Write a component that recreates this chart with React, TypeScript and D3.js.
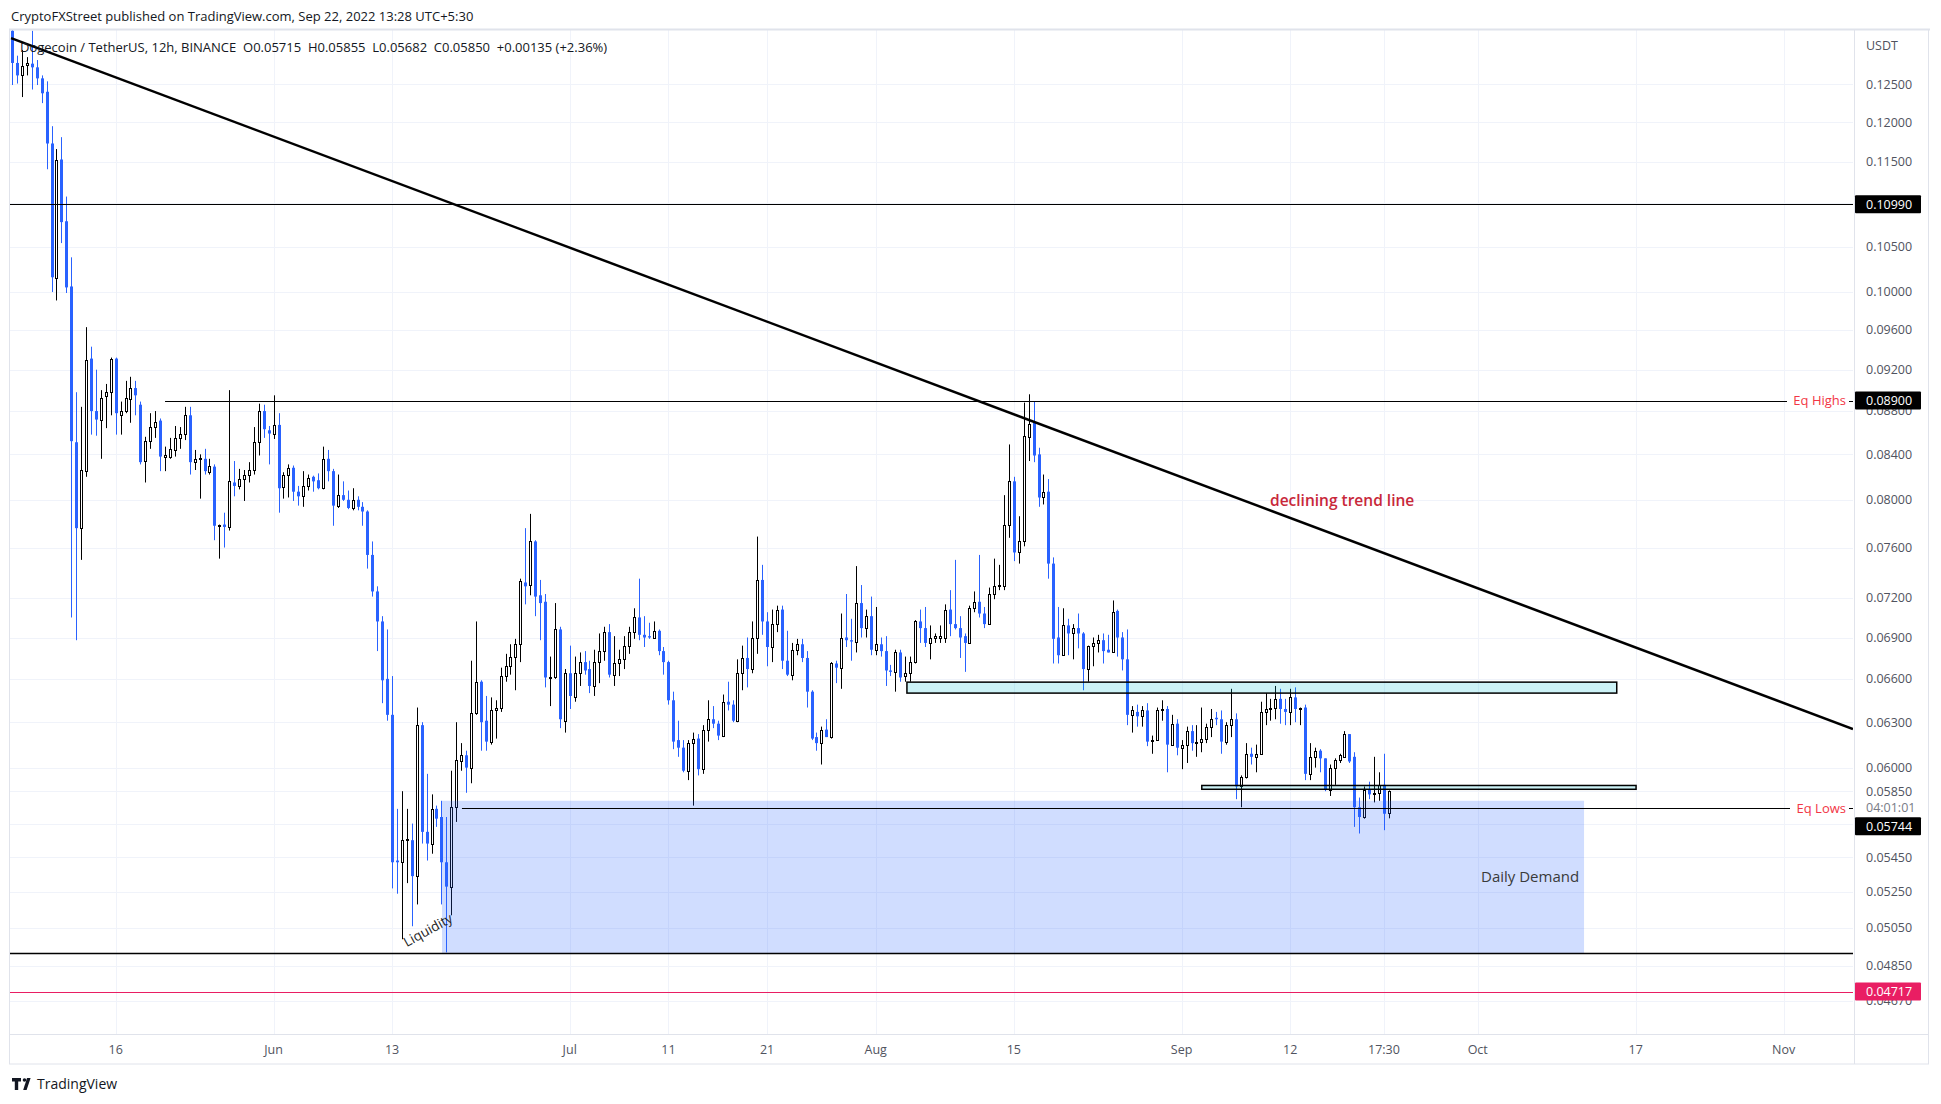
import React from "react";
import * as d3 from "d3";

// 12h candles, [open, high, low, close]
const mayStart = Date.UTC(2022, 4, 5, 12);
const mayCandles = [
  [0.1324, 0.133, 0.1249, 0.1279], [0.1279, 0.1289, 0.1251, 0.1262], [0.1262, 0.1297, 0.1233, 0.1275],
  [0.1276, 0.1287, 0.1262, 0.1279], [0.1278, 0.1324, 0.1243, 0.1273], [0.1273, 0.1283, 0.1249, 0.1258],
  [0.1258, 0.1262, 0.1225, 0.1238], [0.124, 0.1254, 0.1141, 0.1173], [0.1173, 0.1195, 0.1, 0.1016],
  [0.1015, 0.1166, 0.0991, 0.1153], [0.1153, 0.1181, 0.1054, 0.1078], [0.1079, 0.1108, 0.0999, 0.1005],
  [0.1006, 0.1038, 0.0705, 0.0852], [0.0851, 0.0898, 0.0688, 0.0776], [0.0776, 0.0884, 0.075, 0.0826],
  [0.0825, 0.0963, 0.082, 0.093], [0.0931, 0.0943, 0.0858, 0.088], [0.088, 0.092, 0.0857, 0.0872],
  [0.0872, 0.09, 0.0836, 0.0892], [0.0894, 0.0906, 0.0864, 0.0898], [0.0898, 0.0932, 0.0876, 0.0931],
  [0.0931, 0.0932, 0.0858, 0.0878], [0.0876, 0.0889, 0.0858, 0.088], [0.088, 0.0909, 0.0878, 0.0892],
  [0.0891, 0.0913, 0.0869, 0.0902], [0.0902, 0.0909, 0.0876, 0.0895], [0.0886, 0.0889, 0.0831, 0.0833],
  [0.0834, 0.0856, 0.0815, 0.0852], [0.0852, 0.0878, 0.0845, 0.0865], [0.0865, 0.088, 0.0855, 0.087],
  [0.0871, 0.0873, 0.0825, 0.0838], [0.0838, 0.0847, 0.0825, 0.0839], [0.0838, 0.0855, 0.0836, 0.0845],
  [0.0844, 0.0866, 0.0838, 0.0855], [0.0855, 0.0865, 0.0845, 0.0859], [0.0859, 0.0884, 0.0853, 0.0876],
  [0.0876, 0.0884, 0.0822, 0.0833], [0.0833, 0.0844, 0.0826, 0.0836], [0.0837, 0.084, 0.0801, 0.0837],
  [0.0836, 0.0845, 0.0822, 0.0825], [0.0824, 0.0836, 0.0822, 0.083], [0.0829, 0.0831, 0.0766, 0.0778],
  [0.0778, 0.0779, 0.0751, 0.0779], [0.0779, 0.0789, 0.076, 0.0777], [0.0777, 0.09, 0.0774, 0.0816],
  [0.0815, 0.0834, 0.0803, 0.0812], [0.0812, 0.0827, 0.0809, 0.0818], [0.0818, 0.0826, 0.0799, 0.0822],
  [0.0822, 0.0833, 0.0815, 0.0826], [0.0826, 0.0865, 0.0822, 0.0851], [0.0851, 0.0887, 0.0839, 0.088],
  [0.088, 0.0886, 0.0855, 0.0863], [0.0862, 0.0866, 0.0831, 0.0859],
];

const junStart = Date.UTC(2022, 5, 1, 0);
const junCandles = [
  [0.0859, 0.0895, 0.0854, 0.0867], [0.0867, 0.0878, 0.0789, 0.081], [0.0811, 0.0824, 0.0801, 0.0822],
  [0.0822, 0.0831, 0.0802, 0.0828], [0.0828, 0.083, 0.0799, 0.0807], [0.0807, 0.0812, 0.0795, 0.0803],
  [0.0803, 0.0825, 0.0794, 0.0812], [0.0812, 0.0822, 0.0808, 0.0819], [0.082, 0.0821, 0.0807, 0.0816],
  [0.0817, 0.0823, 0.0809, 0.081], [0.081, 0.0847, 0.0809, 0.0836], [0.0836, 0.0844, 0.0816, 0.0825],
  [0.0825, 0.0827, 0.0778, 0.0795], [0.0795, 0.0822, 0.0793, 0.0804], [0.0804, 0.0816, 0.0799, 0.08],
  [0.08, 0.0808, 0.0792, 0.0793], [0.0793, 0.081, 0.0791, 0.08], [0.08, 0.0803, 0.0791, 0.0794],
  [0.0794, 0.0798, 0.0778, 0.079], [0.079, 0.0791, 0.0743, 0.0754], [0.0754, 0.0765, 0.0721, 0.0725],
  [0.0725, 0.0729, 0.068, 0.0702], [0.0702, 0.0706, 0.0643, 0.0659], [0.066, 0.0696, 0.0631, 0.0635],
  [0.0635, 0.0662, 0.0527, 0.0542], [0.0543, 0.0574, 0.0524, 0.0542], [0.0542, 0.0585, 0.0499, 0.0555],
  [0.0555, 0.0574, 0.053, 0.0556], [0.0555, 0.0565, 0.0506, 0.0534], [0.0534, 0.064, 0.0518, 0.0628],
  [0.0628, 0.063, 0.0553, 0.056], [0.056, 0.0596, 0.0543, 0.0553], [0.0553, 0.0583, 0.0547, 0.0574],
  [0.0574, 0.0576, 0.0563, 0.0568], [0.0569, 0.0579, 0.0518, 0.0542], [0.0542, 0.0569, 0.0492, 0.0528],
  [0.0528, 0.0598, 0.0512, 0.0575], [0.0575, 0.063, 0.0566, 0.0605], [0.0604, 0.0616, 0.0598, 0.0608],
  [0.0608, 0.0611, 0.0584, 0.06], [0.06, 0.0673, 0.059, 0.0636], [0.0636, 0.0702, 0.0635, 0.0658],
  [0.0658, 0.0659, 0.0611, 0.063], [0.0631, 0.0648, 0.0611, 0.0617], [0.0617, 0.0647, 0.0615, 0.0638],
  [0.0638, 0.0645, 0.0619, 0.064], [0.064, 0.0668, 0.0637, 0.0662], [0.0662, 0.0678, 0.0658, 0.0669],
  [0.0669, 0.0685, 0.0663, 0.0676], [0.0676, 0.0689, 0.0652, 0.0685], [0.0685, 0.0735, 0.0672, 0.0733],
  [0.0732, 0.0776, 0.0715, 0.0729], [0.073, 0.0788, 0.0722, 0.0765], [0.0765, 0.0766, 0.0706, 0.0721],
  [0.0722, 0.0734, 0.0688, 0.0716], [0.0717, 0.0723, 0.0654, 0.0661], [0.0661, 0.0676, 0.0641, 0.0661],
  [0.0661, 0.0716, 0.066, 0.0696], [0.0696, 0.0698, 0.0626, 0.0632], [0.0631, 0.0667, 0.0623, 0.0664],
];

const julStart = Date.UTC(2022, 6, 1, 0);
const julCandles = [
  [0.0664, 0.0684, 0.0639, 0.0648], [0.0647, 0.0676, 0.0644, 0.0664], [0.0664, 0.0679, 0.0655, 0.0672],
  [0.0672, 0.068, 0.0663, 0.0666], [0.0667, 0.0673, 0.065, 0.0655], [0.0655, 0.0681, 0.0648, 0.0672],
  [0.0672, 0.0693, 0.0657, 0.068], [0.068, 0.0698, 0.0673, 0.0694], [0.0694, 0.07, 0.0661, 0.0663],
  [0.0663, 0.0691, 0.0655, 0.0671], [0.0671, 0.0681, 0.0662, 0.0674], [0.0674, 0.0691, 0.0667, 0.0684],
  [0.0684, 0.0698, 0.0678, 0.0694], [0.0694, 0.0712, 0.0689, 0.0705], [0.0705, 0.0735, 0.0688, 0.0692],
  [0.0692, 0.0706, 0.0683, 0.069], [0.0691, 0.0701, 0.0689, 0.069], [0.069, 0.0702, 0.0689, 0.0695],
  [0.0695, 0.0696, 0.0677, 0.068], [0.068, 0.0683, 0.0663, 0.0672], [0.0672, 0.0673, 0.0642, 0.0645],
  [0.0645, 0.0651, 0.0612, 0.0617], [0.0618, 0.0631, 0.0607, 0.0613], [0.0613, 0.0618, 0.0597, 0.0598],
  [0.0598, 0.0618, 0.0592, 0.0616], [0.0616, 0.0623, 0.0576, 0.0619], [0.0619, 0.0622, 0.0595, 0.0599],
  [0.0599, 0.0628, 0.0596, 0.0625], [0.0625, 0.0645, 0.0617, 0.0632], [0.0632, 0.0641, 0.0626, 0.0629],
  [0.0629, 0.0631, 0.0618, 0.0621], [0.0621, 0.0649, 0.062, 0.0644], [0.0644, 0.0658, 0.0638, 0.0642],
  [0.0642, 0.0645, 0.063, 0.0631], [0.0631, 0.0674, 0.063, 0.0664], [0.0664, 0.0684, 0.0652, 0.0675],
  [0.0675, 0.069, 0.0654, 0.0667], [0.0667, 0.0702, 0.0664, 0.069], [0.069, 0.0769, 0.0678, 0.0734],
  [0.0734, 0.0746, 0.0692, 0.0702], [0.0702, 0.0709, 0.0669, 0.0683], [0.0683, 0.0711, 0.0672, 0.07],
  [0.07, 0.0714, 0.0694, 0.0711], [0.0711, 0.0714, 0.0667, 0.0673], [0.0673, 0.0695, 0.0662, 0.0663],
  [0.0663, 0.0686, 0.0659, 0.0681], [0.0681, 0.0689, 0.0677, 0.0685], [0.0685, 0.0689, 0.0672, 0.0675],
  [0.0675, 0.068, 0.064, 0.0651], [0.0651, 0.0652, 0.0618, 0.0619], [0.062, 0.0623, 0.0611, 0.0616],
  [0.0616, 0.0627, 0.0602, 0.0625], [0.0625, 0.0632, 0.062, 0.062], [0.062, 0.0672, 0.0619, 0.0671],
  [0.0671, 0.0673, 0.0657, 0.0668], [0.0668, 0.0708, 0.0653, 0.069], [0.069, 0.0723, 0.0683, 0.0688],
  [0.0688, 0.0704, 0.0673, 0.0687], [0.0687, 0.0745, 0.0679, 0.0716], [0.0716, 0.073, 0.069, 0.0697],
  [0.0697, 0.0711, 0.069, 0.0706], [0.0706, 0.0721, 0.0677, 0.0681],
];

const augStart = Date.UTC(2022, 7, 1, 0);
const augCandles = [
  [0.0681, 0.0713, 0.0677, 0.0685], [0.0685, 0.069, 0.0676, 0.068], [0.068, 0.0691, 0.0655, 0.0666],
  [0.0666, 0.067, 0.0662, 0.0665], [0.0665, 0.0681, 0.0651, 0.0679], [0.0679, 0.0681, 0.0658, 0.0661],
  [0.0662, 0.0676, 0.0658, 0.0664], [0.0664, 0.0676, 0.0658, 0.0672], [0.0672, 0.0703, 0.0671, 0.0702],
  [0.0702, 0.0711, 0.0686, 0.0697], [0.0697, 0.0713, 0.0683, 0.0686], [0.0686, 0.0699, 0.0674, 0.069],
  [0.069, 0.0693, 0.0686, 0.0691], [0.069, 0.0699, 0.0686, 0.0691], [0.069, 0.0715, 0.0686, 0.0711],
  [0.0711, 0.0726, 0.0691, 0.07], [0.07, 0.075, 0.0696, 0.0697], [0.0697, 0.0706, 0.0675, 0.069],
  [0.0691, 0.0693, 0.0665, 0.0686], [0.0686, 0.0714, 0.0686, 0.0712], [0.0712, 0.0725, 0.0709, 0.0717],
  [0.0717, 0.0754, 0.0705, 0.0708], [0.0708, 0.0713, 0.0697, 0.07], [0.07, 0.0728, 0.07, 0.0723],
  [0.0723, 0.0751, 0.0719, 0.0729], [0.0729, 0.0746, 0.0726, 0.073], [0.0729, 0.0804, 0.0726, 0.0779],
  [0.0779, 0.0849, 0.0768, 0.0816], [0.0816, 0.082, 0.0749, 0.0756], [0.0756, 0.0786, 0.0747, 0.0765],
  [0.0765, 0.0888, 0.0761, 0.0857], [0.0856, 0.0896, 0.0834, 0.0868], [0.0869, 0.0889, 0.0833, 0.0839],
  [0.084, 0.0846, 0.0794, 0.0802], [0.0802, 0.0822, 0.0796, 0.0807], [0.0807, 0.0818, 0.0735, 0.0747],
  [0.0747, 0.0752, 0.0671, 0.0689], [0.069, 0.0713, 0.0671, 0.0677], [0.0677, 0.0712, 0.0677, 0.0699],
  [0.0699, 0.0704, 0.0677, 0.0693], [0.0693, 0.07, 0.0674, 0.0697], [0.0697, 0.0708, 0.0682, 0.0693],
  [0.0693, 0.0694, 0.0652, 0.0667], [0.0667, 0.0684, 0.0658, 0.0684], [0.0684, 0.069, 0.0669, 0.0686],
  [0.0686, 0.0692, 0.0679, 0.0688], [0.0688, 0.0693, 0.0671, 0.068], [0.0681, 0.0692, 0.0679, 0.0679],
  [0.0679, 0.0718, 0.0679, 0.0709], [0.071, 0.0711, 0.0676, 0.069], [0.069, 0.0694, 0.0666, 0.0674],
  [0.0674, 0.0696, 0.0628, 0.0635], [0.0635, 0.0641, 0.0623, 0.0638], [0.0637, 0.0642, 0.0627, 0.0634],
  [0.0634, 0.0641, 0.0627, 0.0638], [0.0638, 0.0643, 0.0614, 0.0617], [0.0618, 0.0621, 0.0609, 0.0618],
  [0.0618, 0.064, 0.0618, 0.0638], [0.0638, 0.0645, 0.0631, 0.0639], [0.0639, 0.0641, 0.0597, 0.0615],
  [0.0615, 0.0635, 0.0615, 0.0629], [0.0629, 0.0632, 0.0608, 0.0613],
];

const sepStart = Date.UTC(2022, 8, 1, 0);
const sepCandles = [
  [0.0613, 0.0618, 0.0599, 0.0615], [0.0615, 0.0627, 0.0603, 0.0624], [0.0624, 0.0628, 0.0611, 0.0616],
  [0.0616, 0.0628, 0.0607, 0.0617], [0.0617, 0.064, 0.061, 0.0619], [0.0619, 0.0629, 0.0616, 0.0627],
  [0.0627, 0.0639, 0.062, 0.0632], [0.0633, 0.0637, 0.0628, 0.0632], [0.0632, 0.0638, 0.0609, 0.0617],
  [0.0617, 0.063, 0.0615, 0.0628], [0.0628, 0.0653, 0.062, 0.0632], [0.0632, 0.0636, 0.058, 0.0588],
  [0.0588, 0.0595, 0.0575, 0.0594], [0.0594, 0.0616, 0.0593, 0.0609], [0.0609, 0.0613, 0.0602, 0.0607],
  [0.0607, 0.0615, 0.0597, 0.0609], [0.0609, 0.0644, 0.0609, 0.0637], [0.0637, 0.065, 0.0628, 0.0639],
  [0.0639, 0.0646, 0.0631, 0.064], [0.064, 0.0655, 0.0632, 0.0646], [0.0646, 0.0653, 0.0629, 0.0639],
  [0.0639, 0.0646, 0.0628, 0.0637], [0.0637, 0.0653, 0.0628, 0.0647], [0.0647, 0.0654, 0.063, 0.0639],
  [0.0639, 0.064, 0.0628, 0.064], [0.064, 0.0642, 0.0592, 0.0596], [0.0596, 0.0616, 0.0592, 0.0607],
  [0.0607, 0.0613, 0.06, 0.0611], [0.0611, 0.0612, 0.0597, 0.0606], [0.0606, 0.0606, 0.0585, 0.0586],
  [0.0586, 0.0602, 0.0582, 0.06], [0.06, 0.0606, 0.0589, 0.0605], [0.0605, 0.0609, 0.0603, 0.0608],
  [0.0607, 0.0624, 0.0607, 0.0622], [0.0622, 0.0622, 0.0603, 0.0604], [0.0607, 0.061, 0.0563, 0.0575],
  [0.0575, 0.0581, 0.0559, 0.0569], [0.0569, 0.0588, 0.0568, 0.0586], [0.0586, 0.0591, 0.058, 0.0583],
  [0.0583, 0.0607, 0.0578, 0.0584], [0.0584, 0.0597, 0.0579, 0.0589], [0.0589, 0.0609, 0.0561, 0.0571],
  [0.05715, 0.05855, 0.05682, 0.0585],
];

const priceTicks = [0.125, 0.12, 0.115, 0.11, 0.105, 0.1, 0.096, 0.092, 0.088, 0.084, 0.08, 0.076, 0.072,
  0.069, 0.066, 0.063, 0.06, 0.0585, 0.0565, 0.0545, 0.0525, 0.0505, 0.0485, 0.0467];

const dateTickTimes = [
  Date.UTC(2022, 4, 16), Date.UTC(2022, 5, 1), Date.UTC(2022, 5, 13), Date.UTC(2022, 6, 1),
  Date.UTC(2022, 6, 11), Date.UTC(2022, 6, 21), Date.UTC(2022, 7, 1), Date.UTC(2022, 7, 15),
  Date.UTC(2022, 8, 1), Date.UTC(2022, 8, 12), Date.UTC(2022, 8, 21, 12), Date.UTC(2022, 9, 1),
  Date.UTC(2022, 9, 17), Date.UTC(2022, 10, 1),
];
const dateTickLabels = ["16", "Jun", "13", "Jul", "11", "21", "Aug", "15", "Sep", "12", "17:30", "Oct", "17", "Nov"];

// drawings
const levelLines = [0.1099, 0.04916];
const pinkLevel = 0.04717;
const eqHigh = { t: Date.UTC(2022, 4, 21), price: 0.089 };
const eqLow = { t: Date.UTC(2022, 5, 20, 2), price: 0.05744 };
const trendStart = { t: Date.UTC(2022, 4, 5, 9, 36), price: 0.13136 };
const trendEnd = { t: Date.UTC(2022, 10, 8, 0, 30), price: 0.06254 };
const demandZone = { t0: Date.UTC(2022, 5, 18, 1, 30), t1: Date.UTC(2022, 9, 11, 18, 30), top: 0.0579, bottom: 0.04916 };
const cyanZones = [
  { t0: Date.UTC(2022, 7, 4, 4), t1: Date.UTC(2022, 9, 15, 2), top: 0.06577, bottom: 0.065 },
  { t0: Date.UTC(2022, 8, 3, 1), t1: Date.UTC(2022, 9, 17, 1), top: 0.05886, bottom: 0.05862 },
];

const HALF_DAY = 12 * 3600 * 1000;
const BLUE = "#2962ff";
const FONT = "'Open Sans', 'Liberation Sans', sans-serif";

const PL = 10, PR = 1853, PT = 29, PB = 1034;

export default function App() {
  const x = d3.scaleUtc().domain([Date.UTC(2022, 4, 5, 7), Date.UTC(2022, 10, 8, 0, 30)]).range([PL, PR]);
  const y = d3.scaleLog().domain([0.04507, 0.13265]).range([PB, PT]);

  const blocks = [
    { start: mayStart, rows: mayCandles },
    { start: junStart, rows: junCandles },
    { start: julStart, rows: julCandles },
    { start: augStart, rows: augCandles },
    { start: sepStart, rows: sepCandles },
  ];
  const candles = blocks.flatMap((b) =>
    b.rows.map((r, i) => ({ t: b.start + i * HALF_DAY, o: r[0], h: r[1], l: r[2], c: r[3] }))
  );

  const crisp = (v: number) => Math.round(v) + 0.5;
  const fmt = (v: number) => v.toFixed(5);

  const trendPath = d3.line<{ t: number; price: number }>()
    .x((d) => x(d.t))
    .y((d) => y(d.price))([trendStart, trendEnd]);

  const labelBox = (v: number, yy: number, fill: string) => (
    <g>
      <rect x={1855} y={yy - 9} width={66} height={18} fill={fill} rx={1} />
      <text x={1866} y={yy} dy="0.35em" fill="#fff" fontSize={12.5} fontFamily={FONT}>{fmt(v)}</text>
    </g>
  );

  return (
    <svg width={1941} height={1104} style={{ position: "absolute", left: 0, top: 0 }}>
      <defs>
        <clipPath id="plot">
          <rect x={PL} y={PT} width={PR - PL} height={PB - PT} />
        </clipPath>
      </defs>
      <rect width={1941} height={1104} fill="#fff" />

      {/* grid */}
      <g stroke="#f0f3fa" strokeWidth={1}>
        {priceTicks.map((v, i) => (
          <line key={i} x1={PL} x2={PR} y1={crisp(y(v))} y2={crisp(y(v))} />
        ))}
        {dateTickTimes.map((t, i) => (
          <line key={i} x1={crisp(x(t))} x2={crisp(x(t))} y1={PT} y2={PB} />
        ))}
      </g>

      <g clipPath="url(#plot)">
        {/* candles */}
        {candles.map((d, i) => {
          const cx = Math.round(x(d.t));
          const up = d.c >= d.o;
          const yT = y(Math.max(d.o, d.c));
          const yB = y(Math.min(d.o, d.c));
          if (up) {
            const t = Math.round(yT);
            const b = Math.max(t + 1, Math.round(yB));
            return (
              <g key={i}>
                <line x1={cx + 0.5} x2={cx + 0.5} y1={y(d.h)} y2={y(d.l)} stroke="#000" />
                <rect x={cx - 0.5} y={t + 0.5} width={2} height={b - t} fill="#fff" stroke="#000" />
              </g>
            );
          }
          return (
            <g key={i}>
              <line x1={cx + 0.5} x2={cx + 0.5} y1={y(d.h)} y2={y(d.l)} stroke={BLUE} />
              <rect x={cx - 1} y={yT} width={3} height={Math.max(1, yB - yT)} fill={BLUE} />
            </g>
          );
        })}

        {/* demand zone */}
        <rect x={x(demandZone.t0)} y={y(demandZone.top)} width={x(demandZone.t1) - x(demandZone.t0)}
          height={y(demandZone.bottom) - y(demandZone.top)} fill="rgba(41,98,255,0.22)" />

        {/* cyan zones */}
        {cyanZones.map((z, i) => (
          <rect key={i} x={x(z.t0)} y={y(z.top)} width={x(z.t1) - x(z.t0)} height={y(z.bottom) - y(z.top)}
            fill="rgba(0,188,212,0.2)" stroke="#000" strokeWidth={1.5} />
        ))}

        {/* horizontal levels */}
        {levelLines.map((v, i) => (
          <line key={i} x1={PL} x2={PR} y1={crisp(y(v))} y2={crisp(y(v))} stroke="#000" strokeWidth={i === 1 ? 1.5 : 1} />
        ))}
        <line x1={PL} x2={PR} y1={crisp(y(pinkLevel))} y2={crisp(y(pinkLevel))} stroke="#e91e63" />

        <line x1={x(eqHigh.t)} x2={1787} y1={crisp(y(eqHigh.price))} y2={crisp(y(eqHigh.price))} stroke="#000" />
        <line x1={1849} x2={PR} y1={crisp(y(eqHigh.price))} y2={crisp(y(eqHigh.price))} stroke="#000" />
        <line x1={x(eqLow.t)} x2={1790} y1={crisp(y(eqLow.price))} y2={crisp(y(eqLow.price))} stroke="#000" strokeWidth={1.2} />
        <line x1={1849} x2={PR} y1={crisp(y(eqLow.price))} y2={crisp(y(eqLow.price))} stroke="#000" />

        {/* trend line */}
        <path d={trendPath || ""} stroke="#000" strokeWidth={2.5} fill="none" />

        {/* annotations */}
        <text x={1846} y={y(eqHigh.price)} dy="0.35em" textAnchor="end" fill="#f23645" fontSize={13} fontFamily={FONT}>Eq Highs</text>
        <text x={1846} y={y(eqLow.price)} dy="0.35em" textAnchor="end" fill="#f23645" fontSize={13} fontFamily={FONT}>Eq Lows</text>
        <text x={1270} y={501} dy="0.35em" fill="#c8283a" fontSize={15.5} fontWeight={600} fontFamily={FONT}>declining trend line</text>
        <text x={1481} y={877} dy="0.35em" fill="#3a3a3a" fontSize={15} fontFamily={FONT}>Daily Demand</text>
        <text transform="translate(428,930) rotate(-29)" textAnchor="middle" dy="0.35em" fill="#222" fontSize={13.5} fontFamily={FONT}>Liquidity</text>
      </g>

      {/* legend */}
      <text x={20} y={47} dy="0.35em" fill="#131722" fontSize={13} fontFamily={FONT} style={{ whiteSpace: "pre" }}>
        {"Dogecoin / TetherUS, 12h, BINANCE  O0.05715  H0.05855  L0.05682  C0.05850  +0.00135 (+2.36%)"}
      </text>

      {/* right axis */}
      <rect x={PR} y={PT} width={1929 - PR} height={1064 - PT} fill="#fff" />
      <line x1={1854.5} x2={1854.5} y1={PT} y2={1064} stroke="#e0e3eb" />
      <text x={1866} y={46} dy="0.35em" fill="#50535e" fontSize={12.5} fontFamily={FONT}>USDT</text>
      {priceTicks.map((v, i) => (
        <text key={i} x={1866} y={y(v)} dy="0.35em" fill="#50535e" fontSize={12.5} fontFamily={FONT}>{fmt(v)}</text>
      ))}
      <rect x={1856} y={y(0.0585) + 9} width={64} height={15} fill="#fff" />
      <text x={1866} y={y(0.0585) + 16} dy="0.35em" fill="#787b86" fontSize={12.5} fontFamily={FONT}>04:01:01</text>
      {labelBox(0.1099, y(0.1099), "#000")}
      {labelBox(0.089, y(0.089), "#000")}
      {labelBox(0.05744, y(0.05744) + 18, "#000")}
      {labelBox(pinkLevel, y(pinkLevel), "#e91e63")}

      {/* bottom axis */}
      <rect x={PL} y={PB} width={PR - PL} height={30} fill="#fff" />
      <line x1={9} x2={1929} y1={PB + 0.5} y2={PB + 0.5} stroke="#e0e3eb" />
      {dateTickTimes.map((t, i) => (
        <text key={i} x={x(t)} y={1050} dy="0.35em" textAnchor="middle" fill="#50535e" fontSize={12.5} fontFamily={FONT}>
          {dateTickLabels[i]}
        </text>
      ))}

      {/* frame */}
      <rect x={9.5} y={29.5} width={1919} height={1034.5} fill="none" stroke="#e0e3eb" />
      <line x1={9} x2={1930} y1={29.5} y2={29.5} stroke="#e0e3eb" strokeWidth={2} />

      {/* header / footer */}
      <text x={11} y={16} dy="0.35em" fill="#131722" fontSize={13} fontFamily={FONT}>
        CryptoFXStreet published on TradingView.com, Sep 22, 2022 13:28 UTC+5:30
      </text>
      <g fill="#131722">
        <path d="M12 1078h9v3.5h-2.8v8.5h-3.4v-8.5H12z" />
        <circle cx={24.5} cy={1080} r={1.8} />
        <path d="M27 1078h3.6l-4 12h-3.4z" />
      </g>
      <text x={37} y={1084} dy="0.35em" fill="#131722" fontSize={14} fontFamily={FONT}>TradingView</text>
    </svg>
  );
}
